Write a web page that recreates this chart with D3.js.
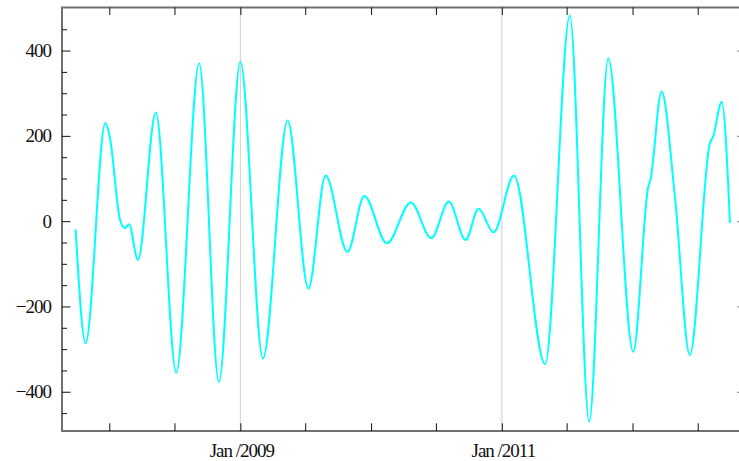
<!DOCTYPE html>
<html>
<head>
<meta charset="utf-8">
<script src="https://cdn.jsdelivr.net/npm/d3@7"></script>
<style>
  body { margin: 0; background: #fff; }
  svg { display: block; }
</style>
</head>
<body>
<svg id="chart"></svg>
<script>
// Chart size and plot box
const W = 739, H = 461;
const margin = { top: 7.5, right: -6, bottom: 30, left: 62 };
const width = W - margin.left - margin.right;
const height = H - margin.top - margin.bottom;

// Series (peaks, troughs and shoulders)
const dates = [
  "2007-09-29", "2007-10-27", "2007-12-21", "2008-01-03", "2008-01-31", "2008-02-14",
  "2008-02-25", "2008-03-21", "2008-05-10", "2008-07-06", "2008-09-08", "2008-11-02",
  "2009-01-01", "2009-03-05", "2009-05-13", "2009-07-10", "2009-08-27", "2009-10-27",
  "2009-12-13", "2010-02-14", "2010-04-22", "2010-06-18", "2010-08-06", "2010-09-22",
  "2010-10-28", "2010-12-09", "2011-02-04", "2011-05-02", "2011-07-10", "2011-09-02",
  "2011-10-25", "2012-01-03", "2012-02-14", "2012-02-20", "2012-03-22", "2012-04-28",
  "2012-06-09", "2012-08-04", "2012-08-13", "2012-09-06", "2012-09-29"
];
const values = [
  -19, -286, 230, 195, 3, -16,
  -7, -91, 255, -355, 370, -377,
  374, -322, 236, -158, 107, -72,
  59, -52, 44, -40, 46, -44,
  29, -26, 107, -335, 482, -470,
  382, -306, 81, 97, 304, 61,
  -314, 183, 198, 280, -4
];

// Axis ticks
const yMajorTicks = [-400, -200, 0, 200, 400];
const yMinorTicks = [-450, -350, -300, -250, -150, -100, -50, 50, 100, 150, 250, 300, 350, 450];
const xTicks = ["2008-01-01", "2008-07-01", "2009-01-01", "2009-07-01", "2010-01-01",
                "2010-07-01", "2011-01-01", "2011-07-01", "2012-01-01", "2012-07-01"];
const xLabelled = ["2009-01-01", "2011-01-01"];

const parse = d3.timeParse("%Y-%m-%d");
const data = dates.map((d, i) => ({ date: parse(d), value: values[i] }));

const svg = d3.select("#chart")
    .attr("width", W)
    .attr("height", H);

const g = svg.append("g")
    .attr("transform", `translate(${margin.left},${margin.top})`);

// Scales
const x = d3.scaleTime()
    .domain([parse("2007-08-22"), parse("2012-11-10")])
    .range([0, width]);
const y = d3.scaleLinear()
    .domain([-492, 501])
    .range([height, 0]);

// Vertical grid lines at labelled years
g.selectAll(".grid")
    .data(xLabelled.map(parse))
    .enter().append("line")
    .attr("class", "grid")
    .attr("x1", d => x(d)).attr("x2", d => x(d))
    .attr("y1", 0).attr("y2", height)
    .attr("stroke", "#d0d0d0")
    .attr("stroke-width", 1);

// The curve
const line = d3.line()
    .x(d => x(d.date))
    .y(d => y(d.value))
    .curve(d3.curveMonotoneX);

g.append("path")
    .datum(data)
    .attr("fill", "none")
    .attr("stroke", "#00ffff")
    .attr("stroke-width", 2)
    .attr("d", line);

// Frame
g.append("rect")
    .attr("x", 0).attr("y", 0)
    .attr("width", width).attr("height", height)
    .attr("fill", "none")
    .attr("stroke", "#707070")
    .attr("stroke-width", 2);

// Left axis, ticks pointing inward
const yMajor = g.append("g")
    .call(d3.axisLeft(y).tickValues(yMajorTicks).tickSize(-8.5).tickPadding(11));
const yMinor = g.append("g")
    .call(d3.axisLeft(y).tickValues(yMinorTicks).tickSize(-5).tickFormat(""));

// Right axis (major ticks only)
const yRight = g.append("g")
    .attr("transform", `translate(${width},0)`)
    .call(d3.axisRight(y).tickValues(yMajorTicks).tickSize(-8).tickFormat(""));

// Bottom and top axes
const fmt = d3.timeFormat("%b /%Y");
const key = d3.timeFormat("%Y-%m-%d");
const xBottom = g.append("g")
    .attr("transform", `translate(0,${height})`)
    .call(d3.axisBottom(x).tickValues(xTicks.map(parse)).tickSize(-7.7)
        .tickFormat(d => xLabelled.includes(key(d)) ? fmt(d) : ""));
const xTop = g.append("g")
    .call(d3.axisTop(x).tickValues(xTicks.map(parse)).tickSize(-7.5).tickFormat(""));

[yMajor, yMinor, yRight, xBottom, xTop].forEach(a => {
    a.select(".domain").remove();
    a.attr("font-family", "'Liberation Serif', 'Times New Roman', serif")
     .attr("font-size", 19);
    a.selectAll(".tick line").attr("stroke", "#111").attr("stroke-width", 1);
    a.selectAll(".tick text").attr("fill", "#111").style("letter-spacing", "-1px");
});
yRight.selectAll(".tick line").attr("stroke", "#888");
xBottom.selectAll(".tick text").attr("y", 25.5).attr("dy", 0).attr("dx", 1);
</script>
</body>
</html>
